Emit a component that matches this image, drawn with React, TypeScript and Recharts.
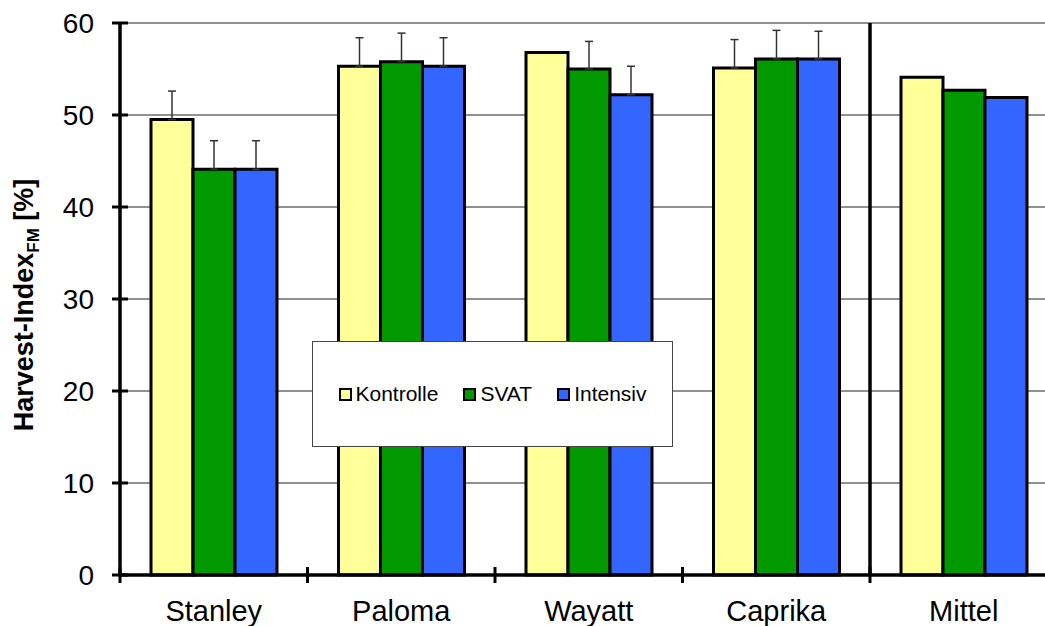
import {
  Bar,
  BarChart,
  CartesianGrid,
  ErrorBar,
  Label,
  Legend,
  ReferenceLine,
  XAxis,
  YAxis,
} from "recharts";

const categories = ["Stanley", "Paloma", "Wayatt", "Caprika", "Mittel"];
const kontrolle = [49.5, 55.3, 56.8, 55.1, 54.1];
const svat = [44.1, 55.8, 55.0, 56.1, 52.7];
const intensiv = [44.1, 55.3, 52.2, 56.1, 51.9];
// one-sided (upward) standard deviations, null = no whisker
const kontrolleErr = [3.1, 3.1, null, 3.1, null];
const svatErr = [3.1, 3.1, 3.0, 3.1, null];
const intensivErr = [3.1, 3.1, 3.1, 3.0, null];
const yTicks = [0, 10, 20, 30, 40, 50, 60];

const COLORS = {
  kontrolle: "#FFFF99",
  svat: "#009900",
  intensiv: "#3366FF",
};

const FONT = "Arial, 'Liberation Sans', sans-serif";
const CHART_W = 1070;
const CHART_H = 626;
const MARGIN = { top: 23, right: 12.5, bottom: 0, left: 0 };
const Y_AXIS_W = 120;
const BAND = (CHART_W - MARGIN.left - MARGIN.right - Y_AXIS_W) / categories.length;

const up = (e: number | null) => (e == null ? null : [0, e]);

const data = categories.map((name, i) => ({
  name,
  kontrolle: kontrolle[i],
  svat: svat[i],
  intensiv: intensiv[i],
  kontrolleErr: up(kontrolleErr[i]),
  svatErr: up(svatErr[i]),
  intensivErr: up(intensivErr[i]),
}));

const legendItems = [
  { label: "Kontrolle", color: COLORS.kontrolle },
  { label: "SVAT", color: COLORS.svat },
  { label: "Intensiv", color: COLORS.intensiv },
];

function YTick(props: any) {
  const { x, y, payload } = props;
  return (
    <g>
      <line x1={x + 16} x2={x + 32} y1={y} y2={y} stroke="#000" strokeWidth={3} />
      <text
        x={x - 2}
        y={y}
        dy="0.36em"
        textAnchor="end"
        fill="#000"
        fontSize={28}
        fontFamily={FONT}
      >
        {payload.value}
      </text>
    </g>
  );
}

function XTick(props: any) {
  const { x, y, payload } = props;
  const left = x - BAND / 2;
  return (
    <g>
      <line x1={left} x2={left} y1={y - 33} y2={y - 17} stroke="#000" strokeWidth={3} />
      <text
        x={x}
        y={y}
        dy="0.71em"
        textAnchor="middle"
        fill="#000"
        fontSize={29}
        fontFamily={FONT}
      >
        {payload.value}
      </text>
    </g>
  );
}

function YLabel(props: any) {
  const { viewBox } = props;
  const cx = 33;
  const cy = viewBox.y + viewBox.height / 2 + 6;
  return (
    <text
      x={cx}
      y={cy}
      transform={`rotate(-90, ${cx}, ${cy})`}
      textAnchor="middle"
      fill="#000"
      fontSize={27}
      fontWeight="bold"
      fontFamily={FONT}
    >
      Harvest-Index
      <tspan fontSize={17} dy={6}>
        FM
      </tspan>
      <tspan dy={-6}> [%]</tspan>
    </text>
  );
}

function LegendBox() {
  return (
    <div
      style={{
        width: "100%",
        height: "100%",
        boxSizing: "border-box",
        border: "1.5px solid #444",
        background: "#fff",
        display: "flex",
        alignItems: "center",
        justifyContent: "center",
        gap: 25,
        fontFamily: FONT,
        fontSize: 21,
        color: "#000",
      }}
    >
      {legendItems.map((item) => (
        <div key={item.label} style={{ display: "flex", alignItems: "center", gap: 4 }}>
          <span
            style={{
              display: "inline-block",
              width: 13,
              height: 13,
              boxSizing: "border-box",
              border: "2px solid #000",
              background: item.color,
            }}
          />
          <span>{item.label}</span>
        </div>
      ))}
    </div>
  );
}

export default function App() {
  return (
    <div
      style={{
        position: "absolute",
        left: 0,
        top: 0,
        width: 1045,
        height: 626,
        overflow: "hidden",
        background: "#fff",
      }}
    >
      <BarChart
        width={CHART_W}
        height={CHART_H}
        data={data}
        margin={MARGIN}
        barSize={42}
        barGap={0}
      >
        <CartesianGrid horizontal vertical={false} stroke="#222" strokeWidth={1} />
        <XAxis
          dataKey="name"
          height={51}
          axisLine={{ stroke: "#000", strokeWidth: 3.5 }}
          tickLine={false}
          tickSize={8}
          tickMargin={17}
          tick={<XTick />}
          interval={0}
        />
        <YAxis
          domain={[0, 60]}
          ticks={yTicks}
          width={Y_AXIS_W}
          axisLine={{ stroke: "#000", strokeWidth: 3.5 }}
          tickLine={false}
          tickSize={8}
          tickMargin={16}
          tick={<YTick />}
        >
          <Label content={<YLabel />} />
        </YAxis>
        <ReferenceLine x="Mittel" position="start" stroke="#000" strokeWidth={3.5} />
        <Legend
          verticalAlign="middle"
          align="center"
          content={<LegendBox />}
          wrapperStyle={{ left: 312, top: 341, width: 361, height: 106 }}
        />
        <Bar
          dataKey="kontrolle"
          name="Kontrolle"
          fill={COLORS.kontrolle}
          stroke="#000"
          strokeWidth={3}
          isAnimationActive={false}
        >
          <ErrorBar dataKey="kontrolleErr" width={4} stroke="#333" strokeWidth={1.5} direction="y" />
        </Bar>
        <Bar
          dataKey="svat"
          name="SVAT"
          fill={COLORS.svat}
          stroke="#000"
          strokeWidth={3}
          isAnimationActive={false}
        >
          <ErrorBar dataKey="svatErr" width={4} stroke="#333" strokeWidth={1.5} direction="y" />
        </Bar>
        <Bar
          dataKey="intensiv"
          name="Intensiv"
          fill={COLORS.intensiv}
          stroke="#000"
          strokeWidth={3}
          isAnimationActive={false}
        >
          <ErrorBar dataKey="intensivErr" width={4} stroke="#333" strokeWidth={1.5} direction="y" />
        </Bar>
      </BarChart>
    </div>
  );
}
